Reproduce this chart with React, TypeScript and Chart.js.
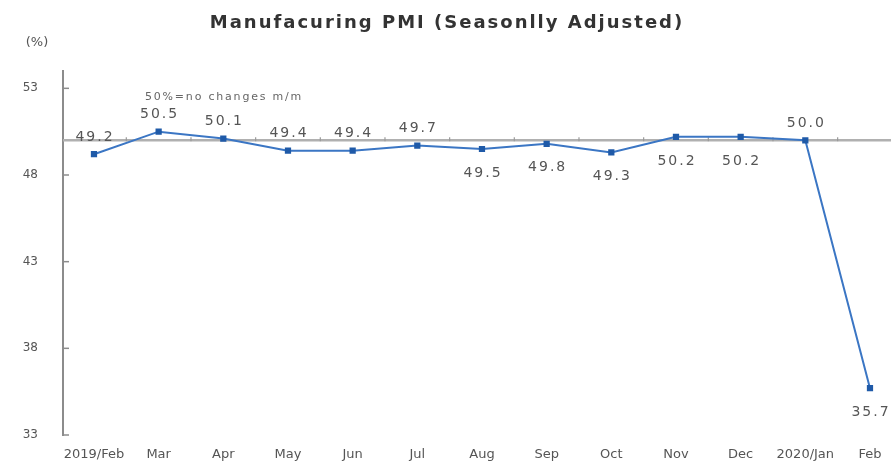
import { useEffect, useRef } from 'react';
import { Chart, registerables } from 'chart.js';

Chart.register(...registerables);

// ---- data ----
const CATEGORIES = ['2019/Feb', 'Mar', 'Apr', 'May', 'Jun', 'Jul', 'Aug', 'Sep', 'Oct', 'Nov', 'Dec', '2020/Jan', 'Feb'];
const PMI = [49.2, 50.5, 50.1, 49.4, 49.4, 49.7, 49.5, 49.8, 49.3, 50.2, 50.2, 50.0, 35.7];
const Y_TICKS = [33, 38, 43, 48, 53];
const THRESHOLD = 50;
const TITLE = 'Manufacuring PMI (Seasonlly Adjusted)';
const UNIT = '(%)';
const NOTE = '50%=no changes m/m';

// ---- label placement (style, not data) ----
const LABEL_BELOW = [false, false, false, false, false, false, true, true, true, true, true, false, true];

const TEXT = '#555555';

const decor = {
  id: 'decor',
  beforeDatasetsDraw(chart: any) {
    const { ctx, chartArea, scales } = chart;
    const x = scales.x;
    const y = scales.y;
    const y50 = y.getPixelForValue(THRESHOLD);
    ctx.save();
    ctx.strokeStyle = '#b0b0b0';
    ctx.lineWidth = 2.5;
    ctx.beginPath();
    ctx.moveTo(chartArea.left, y50);
    ctx.lineTo(chart.width, y50);
    ctx.stroke();
    ctx.strokeStyle = '#9a9a9a';
    ctx.lineWidth = 1.2;
    for (let i = 0; i < CATEGORIES.length - 1; i++) {
      const px = x.getPixelForValue(i + 0.5);
      ctx.beginPath();
      ctx.moveTo(px, y50 - 3);
      ctx.lineTo(px, y50 + 1);
      ctx.stroke();
    }
    ctx.strokeStyle = '#8c8c8c';
    ctx.lineWidth = 1.5;
    for (const t of Y_TICKS) {
      const py = y.getPixelForValue(t);
      ctx.beginPath();
      ctx.moveTo(chartArea.left, py);
      ctx.lineTo(chartArea.left + 6, py);
      ctx.stroke();
    }
    ctx.restore();
  },
  afterDatasetsDraw(chart: any) {
    const { ctx, scales } = chart;
    const x = scales.x;
    const y = scales.y;
    ctx.save();
    ctx.fillStyle = TEXT;
    ctx.font = '14px "DejaVu Sans"';
    (ctx as any).letterSpacing = '2px';
    ctx.textAlign = 'center';
    ctx.textBaseline = 'middle';
    PMI.forEach((v, i) => {
      const px = x.getPixelForValue(i);
      const py = y.getPixelForValue(v);
      const ly = LABEL_BELOW[i] ? py + 24 : py - 17;
      ctx.fillText(v.toFixed(1), px + 1, ly);
    });
    ctx.font = '11px "DejaVu Sans"';
    (ctx as any).letterSpacing = '1.8px';
    ctx.textAlign = 'left';
    ctx.fillStyle = '#666666';
    ctx.fillText(NOTE, 145, 97);
    ctx.font = 'bold 18px "DejaVu Sans"';
    (ctx as any).letterSpacing = '2px';
    ctx.textAlign = 'center';
    ctx.fillStyle = '#333333';
    ctx.fillText(TITLE, 447, 23);
    ctx.font = '13px "DejaVu Sans"';
    (ctx as any).letterSpacing = '0px';
    ctx.fillStyle = TEXT;
    ctx.fillText(UNIT, 37, 43);
    ctx.restore();
  },
};

export default function App() {
  const ref = useRef<HTMLCanvasElement | null>(null);
  useEffect(() => {
    const canvas = ref.current;
    if (!canvas) return;
    const chart = new Chart(canvas, {
      type: 'line',
      data: {
        datasets: [
          {
            data: PMI.map((v, i) => ({ x: i, y: v })),
            borderColor: '#3b76c4',
            borderWidth: 2,
            backgroundColor: '#1f5aa8',
            pointBackgroundColor: '#1f5aa8',
            pointBorderColor: '#1f5aa8',
            pointStyle: 'rect',
            pointRadius: 3,
            tension: 0,
            clip: false as any,
          },
        ],
      },
      options: {
        animation: false,
        responsive: false,
        devicePixelRatio: 1,
        layout: { autoPadding: false, padding: { top: 71, right: 0, left: 0, bottom: 0 } },
        plugins: { legend: { display: false }, tooltip: { enabled: false }, title: { display: false } },
        scales: {
          x: {
            type: 'linear',
            min: -0.479,
            max: 12.325,
            afterBuildTicks: (s: any) => {
              s.ticks = CATEGORIES.map((_, i) => ({ value: i }));
            },
            afterFit: (s: any) => {
              s.height = 28;
              s.paddingLeft = 0;
              s.paddingRight = 0;
            },
            grid: { display: false, drawTicks: false },
            border: { display: false },
            ticks: {
              autoSkip: false,
              maxRotation: 0,
              padding: 12,
              color: TEXT,
              font: { family: 'DejaVu Sans', size: 13 },
              callback: (v: any) => CATEGORIES[v as number] ?? '',
            },
          },
          y: {
            min: 33,
            max: 54,
            afterBuildTicks: (s: any) => {
              s.ticks = Y_TICKS.map((v) => ({ value: v }));
            },
            afterFit: (s: any) => {
              s.width = 63;
              s.paddingTop = 0;
              s.paddingBottom = 0;
            },
            grid: { drawOnChartArea: false, drawTicks: false },
            border: { display: true, color: '#8c8c8c', width: 2 },
            ticks: {
              padding: 25,
              color: TEXT,
              font: { family: 'DejaVu Sans', size: 12 },
            },
          },
        },
      },
      plugins: [decor],
    });
    return () => chart.destroy();
  }, []);
  return (
    <div style={{ position: 'fixed', left: 0, top: 0, width: 891, height: 463, background: '#fff' }}>
      <canvas ref={ref} width={891} height={463} style={{ display: 'block' }} />
    </div>
  );
}
